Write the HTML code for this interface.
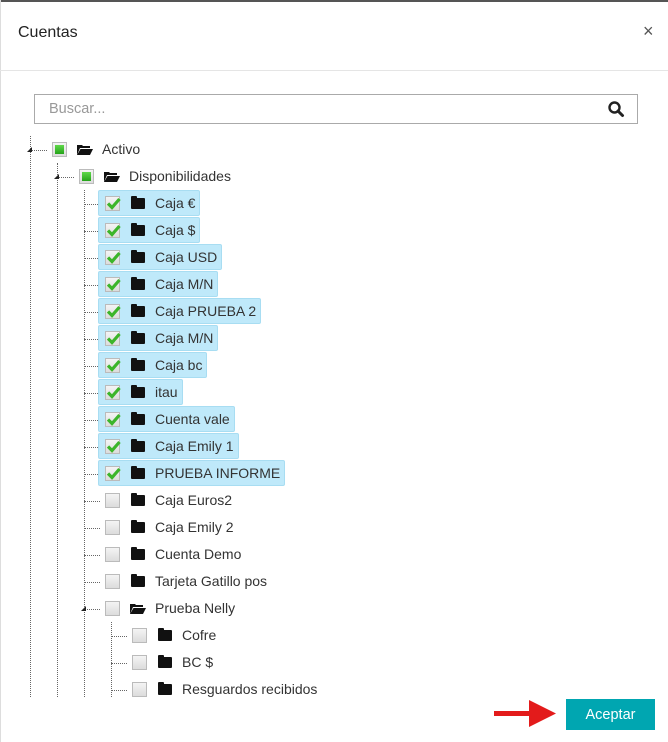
<!DOCTYPE html>
<html><head><meta charset="utf-8"><style>
*{box-sizing:border-box;margin:0;padding:0}
body{width:668px;height:742px;background:#fff;position:relative;overflow:hidden;font-family:"Liberation Sans",sans-serif;color:#333}
.abs{position:absolute}
.vl{position:absolute;width:0;border-left:1px dotted #666}
.hl{position:absolute;height:0;border-top:1px dotted #666}
.row{position:absolute;height:26px;display:flex;align-items:center;font-size:14px;white-space:nowrap;padding-left:6px;padding-right:4px;border:1px solid transparent;border-radius:2px}
.row.sel{background:#bfe9fa;border-color:#a8ddf2}
.cb{width:15px;height:15px;border:1px solid #bbb;background:linear-gradient(#f4f4f4,#dcdcdc);position:relative;flex:none}
.cb.part::after{content:"";position:absolute;left:2px;top:2px;width:9px;height:9px;background:linear-gradient(#5fd84a,#25a31a)}
.cb.chk svg{position:absolute;left:0;top:-1px}
.fo{width:14px;height:11px;background:#111;border-radius:1px;margin-left:11px;margin-right:10px;position:relative;flex:none}
.fo::before{content:"";position:absolute;left:0;top:-2px;width:6px;height:3px;background:#111;border-radius:1px 1px 0 0}
.fop{width:16px;height:11px;margin-left:10px;margin-right:9px;flex:none}
.tri{position:absolute;width:0;height:0;border-left:5px solid transparent;border-bottom:5px solid #222}
</style></head><body>
<div class="abs" style="left:0;top:0;width:668px;height:2px;background:#555"></div>
<div class="abs" style="left:0;top:0;width:1px;height:742px;background:#ddd"></div>
<div class="abs" style="left:18px;top:24px;font-size:16px;color:#222">Cuentas</div>
<div class="abs" style="left:643px;top:21px;font-size:18px;color:#555">×</div>
<div class="abs" style="left:0;top:70px;width:668px;height:1px;background:#e5e5e5"></div>
<div class="abs" style="left:34px;top:94px;width:604px;height:30px;border:1px solid #aaa"></div>
<div class="abs" style="left:49px;top:101px;font-size:14.5px;color:#999">Buscar...</div>
<svg class="abs" style="left:607px;top:100px" width="18" height="18" viewBox="0 0 18 18"><circle cx="7.5" cy="7.5" r="5" fill="none" stroke="#222" stroke-width="2.4"/><line x1="11" y1="11" x2="15.5" y2="15.5" stroke="#222" stroke-width="3" stroke-linecap="round"/></svg>

<div class="vl" style="left:30px;top:136px;height:561px"></div>
<div class="vl" style="left:57px;top:163px;height:534px"></div>
<div class="vl" style="left:84px;top:190px;height:507px"></div>
<div class="vl" style="left:111px;top:622px;height:75px"></div>
<div id="tree"></div>

<div class="abs" style="left:494px;top:711px;width:38px;height:5px;background:#e31b1b"></div>
<svg class="abs" style="left:529px;top:700px" width="28" height="27"><polygon points="0,0 27,13.5 0,27" fill="#e31b1b"/></svg>
<div class="abs" style="left:566px;top:699px;width:89px;height:31px;background:#00a6b1;color:#fff;font-size:14.5px;display:flex;align-items:center;justify-content:center">Aceptar</div>

<script>
var rows=[
[1,"Activo","part",1],[2,"Disponibilidades","part",1],
[3,"Caja €","chk"],[3,"Caja $","chk"],[3,"Caja USD","chk"],[3,"Caja M/N","chk"],[3,"Caja PRUEBA 2","chk"],[3,"Caja M/N","chk"],[3,"Caja bc","chk"],[3,"itau","chk"],[3,"Cuenta vale","chk"],[3,"Caja Emily 1","chk"],[3,"PRUEBA INFORME","chk"],
[3,"Caja Euros2",""],[3,"Caja Emily 2",""],[3,"Cuenta Demo",""],[3,"Tarjeta Gatillo pos",""],[3,"Prueba Nelly","",1],
[4,"Cofre",""],[4,"BC $",""],[4,"Resguardos recibidos",""]];
var cbxs=[0,52,79,105,132];
var h="";
rows.forEach(function(r,i){
 var c=150+27*i, lv=r[0], cbx=cbxs[lv], lx=30+27*(lv-1);
 h+='<div class="hl" style="left:'+lx+'px;top:'+c+'px;width:'+(cbx-lx-5)+'px"></div>';
 if(r[3]) h+='<div class="tri" style="left:'+(lx-3)+'px;top:'+(c-3)+'px"></div>';
 var cb='<div class="cb '+r[2]+'">'+(r[2]=="chk"?'<svg width="15" height="15"><path d="M2 7.5 L6 11.5 L13.5 3" fill="none" stroke="#3cb52a" stroke-width="3.2"/></svg>':'')+'</div>';
 var fo=r[3]?'<svg class="fop" viewBox="0 0 16 11"><path d="M0 1h5l1 1h7v2H3L0 11z" fill="#111"/><path d="M3.5 5H16L13 11H0z" fill="#111"/></svg>':'<div class="fo"></div>';
 h+='<div class="row '+(r[2]=="chk"?"sel":"")+'" style="left:'+(cbx-7)+'px;top:'+(c-14)+'px">'+cb+fo+'<span>'+r[1]+'</span></div>';
});
document.getElementById("tree").innerHTML=h;
</script>
</body></html>
